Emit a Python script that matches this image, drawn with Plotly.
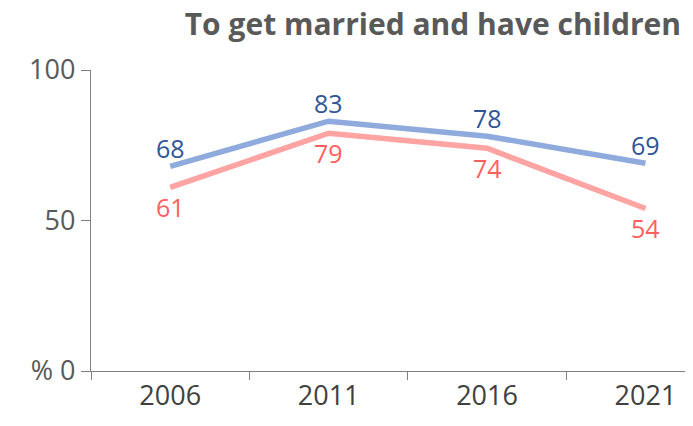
import plotly.graph_objects as go

years = ["2006", "2011", "2016", "2021"]
series_blue = [68, 83, 78, 69]
series_pink = [61, 79, 74, 54]
y_tick_vals = [0, 50, 100]
y_tick_text = ["% 0", "50", "100"]
title_text = "To get married and have children"

FONT = "Open Sans, Liberation Sans, sans-serif"

fig = go.Figure()
fig.add_trace(go.Scatter(
    x=years, y=series_blue, mode="lines",
    line=dict(color="#8faadc", width=5.5),
    cliponaxis=False, showlegend=False))
fig.add_trace(go.Scatter(
    x=years, y=series_pink, mode="lines",
    line=dict(color="#ffa3a3", width=5.5),
    cliponaxis=False, showlegend=False))

# category index positions for labels
for i, yv in enumerate(series_blue):
    fig.add_annotation(x=i, y=yv, xref="x", yref="y", text=str(yv),
                       showarrow=False, yshift=18, yanchor="middle",
                       font=dict(color="#2f5597", size=25, family=FONT))
for i, yv in enumerate(series_pink):
    fig.add_annotation(x=i, y=yv, xref="x", yref="y", text=str(yv),
                       showarrow=False, yshift=-20, yanchor="middle",
                       font=dict(color="#ff5f5f", size=25, family=FONT))

fig.update_layout(
    width=685, height=418,
    margin=dict(l=83, r=0, t=62, b=55),
    paper_bgcolor="white", plot_bgcolor="white",
    font=dict(family=FONT, color="#595959", size=27),
    title=dict(text="<b>" + title_text + "</b>", xref="container",
               x=0.258, xanchor="left",
               y=0.96, yanchor="middle",
               font=dict(size=30, color="#595959", family=FONT)),
    xaxis=dict(type="category", range=[-0.5, 3.3], showline=True,
               linecolor="#808080", linewidth=1.3, ticks="outside",
               tickson="boundaries", ticklen=8, tickcolor="#808080",
               showgrid=False, zeroline=False,
               tickfont=dict(size=27, color="#404040", family=FONT)),
    yaxis=dict(range=[0, 100], tickvals=y_tick_vals, ticktext=y_tick_text,
               showline=True, linecolor="#808080", linewidth=1.3,
               ticks="outside", ticklen=9, tickcolor="#808080",
               showgrid=False, zeroline=False,
               tickfont=dict(size=27, color="#595959", family=FONT)),
)

fig.write_html("out.html")
